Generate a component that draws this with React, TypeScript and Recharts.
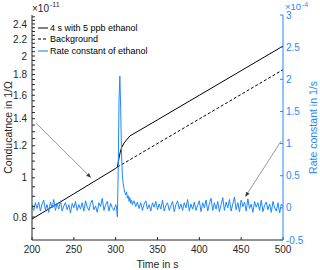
import { LineChart, Line, XAxis, YAxis, Legend, ReferenceLine } from "recharts";

const BLUE = "#1E88FF";
const AXIS = "#262626";
const FONT = '"Liberation Sans", Arial, sans-serif';

// time axis (s)
const timeTicks = [200, 250, 300, 350, 400, 450, 500];

// conductance axis (x 1e-11 1/Ohm), log scale
const condMajor = [0.8, 1, 1.2, 1.4, 1.6, 1.8, 2, 2.2, 2.4];
const condMinor = [0.75, 0.85, 0.9, 0.95, 1.05, 1.1, 1.15, 1.25, 1.3, 1.35, 1.45, 1.5, 1.55, 1.65, 1.7, 1.75, 1.85, 1.9, 1.95, 2.05, 2.1, 2.15, 2.25, 2.3, 2.35, 2.45, 2.5];

// rate constant axis (x 1e-4 1/s)
const rateTicks = [-0.5, 0, 0.5, 1, 1.5, 2, 2.5, 3];

// 4 s with 5 ppb ethanol
const exposedTime = [200, 250, 300, 302, 304, 305.5, 307, 310, 317, 350, 400, 450, 500];
const exposedCond = [0.791, 0.913, 1.055, 1.063, 1.119, 1.158, 1.186, 1.219, 1.269, 1.391, 1.6, 1.84, 2.117];

// background
const bgTime = [302, 400, 500];
const bgCond = [1.063, 1.398, 1.85];

// rate constant of ethanol
const rateBefore = [
  0.05, -0.04, 0.08, -0.01, 0.09, -0.05, 0.06, 0.12, -0.03, 0.05,
  -0.07, 0.09, 0.0, 0.13, -0.04, 0.07, -0.02, 0.11, -0.05, 0.03,
  0.08, -0.03, 0.05, -0.08, 0.07, 0.0, 0.1, -0.04, 0.05, -0.02,
  0.08, -0.05, 0.11, 0.01, -0.04, 0.07, 0.12, -0.03, 0.03, -0.07,
  0.08, 0.02, 0.15, -0.04, 0.05, 0.1, -0.05, 0.07, 0.0, -0.04, 0.05,
]; // 200..300, every 2 s
const ratePeak = [
  0.02, -0.14, 0.55, 1.65, 2.05, 1.55, 0.85, 0.5, 0.38, 0.3,
  0.24, 0.2, 0.25, 0.15, 0.19, 0.1, 0.16, 0.07, 0.12, 0.05,
]; // 301..320, every 1 s
const rateAfter = [
  0.11, 0.02, 0.09, -0.01, 0.08, -0.04, 0.06, 0.11, -0.02, 0.05,
  -0.05, 0.08, 0.01, 0.1, -0.03, 0.06, -0.02, 0.12, -0.05, 0.04,
  0.08, -0.04, 0.03, 0.1, -0.06, 0.05, 0.11, -0.02, 0.06, -0.04,
  0.08, 0.0, 0.13, -0.05, 0.06, -0.02, 0.09, -0.04, 0.04, 0.11,
  -0.06, 0.08, 0.0, 0.12, -0.05, 0.06, 0.15, -0.04, 0.08, -0.02,
  0.1, -0.06, 0.05, 0.16, -0.04, 0.09, 0.0, 0.13, -0.05, 0.06,
  0.17, -0.03, 0.08, -0.06, 0.12, 0.02, 0.09, -0.05, 0.14, -0.01,
  0.06, -0.07, 0.1, 0.01, 0.08, -0.04, 0.12, -0.06, 0.04, 0.09,
  -0.03, 0.06, -0.07, 0.1, 0.0, -0.05, 0.08, -0.08, 0.06, 0.02,
]; // 322..500, every 2 s

// annotation arrows (data coords)
const arrowCond = [{ x: 204.8, y: 1.366 }, { x: 270.6, y: 1.0 }];
const arrowRate = [{ x: 497.8, y: 1.04 }, { x: 454.8, y: 0.17 }];

const exposedData = exposedTime.map((t, i) => ({ t, g: exposedCond[i] }));
const bgData = bgTime.map((t, i) => ({ t, g: bgCond[i] }));
const rateData = [
  ...rateBefore.map((k, i) => ({ t: 200 + i * 2, k })),
  ...ratePeak.map((k, i) => ({ t: 301 + i, k })),
  ...rateAfter.map((k, i) => ({ t: 322 + i * 2, k })),
];

const condTicks = [...condMajor, ...condMinor].sort((a, b) => a - b);

const legendItems = [
  { name: "4 s with 5 ppb ethanol", color: "#000", dash: undefined },
  { name: "Background", color: "#000", dash: "3 2" },
  { name: "Rate constant of ethanol", color: "#5AA8FF", dash: undefined },
];

const Arrow = (props: any) => {
  const { x1, y1, x2, y2 } = props;
  const a = Math.atan2(y2 - y1, x2 - x1);
  const L = 5;
  const W = 2;
  const bx = x2 - L * Math.cos(a);
  const by = y2 - L * Math.sin(a);
  const pts = `${x2},${y2} ${bx - W * Math.sin(a)},${by + W * Math.cos(a)} ${bx + W * Math.sin(a)},${by - W * Math.cos(a)}`;
  return (
    <g>
      <line x1={x1} y1={y1} x2={bx} y2={by} stroke="#9a9a9a" strokeWidth={1} />
      <polygon points={pts} fill="#3a3a3a" />
    </g>
  );
};

const LegendBox = () => (
  <div style={{ fontFamily: FONT, fontSize: 9, color: "#000" }}>
    {legendItems.map((it) => (
      <div key={it.name} style={{ display: "flex", alignItems: "center", height: 11.5, whiteSpace: "nowrap" }}>
        <svg width={10} height={4} style={{ marginRight: 2 }}>
          <line x1={0} y1={2} x2={10} y2={2} stroke={it.color} strokeWidth={it.color === "#000" ? 1 : 1.5} strokeDasharray={it.dash} />
        </svg>
        <span>{it.name}</span>
      </div>
    ))}
  </div>
);

export default function App() {
  const tickStyle = { fontSize: 10, fill: AXIS, fontFamily: FONT };
  return (
    <div style={{ position: "absolute", left: 0, top: 0, width: 320, height: 270, background: "#fff", fontFamily: FONT }}>
      <LineChart width={320} height={270} margin={{ top: 15, right: 0, bottom: 0, left: 0 }}>
        <XAxis
          xAxisId="b"
          type="number"
          dataKey="t"
          domain={[200, 500]}
          ticks={timeTicks}
          interval={0}
          allowDataOverflow
          height={30}
          stroke={AXIS}
          tickSize={-3}
          tickMargin={9}
          tick={tickStyle}
          label={{ value: "Time in s", position: "insideBottom", offset: 2, style: { fontSize: 10.5, fill: AXIS, fontFamily: FONT } }}
        />
        <XAxis
          xAxisId="t"
          orientation="top"
          type="number"
          dataKey="t"
          domain={[200, 500]}
          ticks={timeTicks}
          interval={0}
          height={0}
          stroke="#555"
          tickSize={-3}
          tick={false}
        />
        <YAxis
          yAxisId="l"
          scale="log"
          type="number"
          domain={[0.702, 2.526]}
          allowDataOverflow
          ticks={condTicks}
          interval={0}
          width={32}
          stroke={AXIS}
          tickSize={-3}
          tickMargin={8}
          tick={tickStyle}
          tickFormatter={(v: number) => (condMajor.includes(v) ? String(v) : "")}
          label={{ value: "Conducatnce in 1/Ω", angle: -90, position: "insideLeft", offset: 8, style: { textAnchor: "middle", fontSize: 10.5, fill: AXIS, fontFamily: FONT } }}
        />
        <YAxis
          yAxisId="r"
          orientation="right"
          type="number"
          domain={[-0.5, 3]}
          ticks={rateTicks}
          interval={0}
          allowDataOverflow
          width={37}
          stroke={BLUE}
          tickSize={-3}
          tickMargin={6}
          tick={{ ...tickStyle, fill: BLUE }}
          label={{ value: "Rate constant in 1/s", angle: -90, position: "insideRight", offset: 7, style: { textAnchor: "middle", fontSize: 10.5, fill: BLUE, fontFamily: FONT } }}
        />
        <Legend layout="vertical" align="center" verticalAlign="middle" content={<LegendBox />} wrapperStyle={{ left: 38, top: 22, width: "auto", height: "auto" }} />
        <ReferenceLine xAxisId="b" yAxisId="l" segment={arrowCond} shape={Arrow} ifOverflow="visible" />
        <ReferenceLine xAxisId="b" yAxisId="r" segment={arrowRate} shape={Arrow} ifOverflow="visible" />
        <Line xAxisId="b" yAxisId="l" data={exposedData} dataKey="g" name="4 s with 5 ppb ethanol" stroke="#000" strokeWidth={1} dot={false} isAnimationActive={false} />
        <Line xAxisId="b" yAxisId="l" data={bgData} dataKey="g" name="Background" stroke="#000" strokeWidth={1} strokeDasharray="3 2" dot={false} isAnimationActive={false} />
        <Line xAxisId="b" yAxisId="r" data={rateData} dataKey="k" name="Rate constant of ethanol" stroke={BLUE} strokeWidth={1} dot={false} isAnimationActive={false} />
      </LineChart>
      <svg width={320} height={20} style={{ position: "absolute", left: 0, top: 0, pointerEvents: "none" }}>
        <text x={32} y={12} fontSize={10} fill={AXIS} fontFamily={FONT}>×10</text>
        <text x={50} y={7} fontSize={7} fill={AXIS} fontFamily={FONT}>-11</text>
        <text x={285} y={9.5} fontSize={9.5} fill={BLUE} fontFamily={FONT}>×10</text>
        <text x={302} y={6.5} fontSize={7} fill={BLUE} fontFamily={FONT}>-4</text>
      </svg>
    </div>
  );
}
